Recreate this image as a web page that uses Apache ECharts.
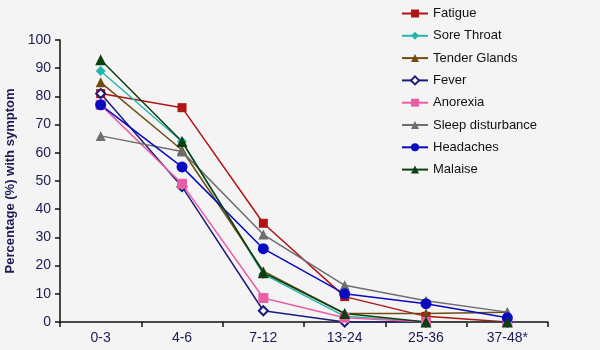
<!DOCTYPE html>
<html><head><meta charset="utf-8">
<script src="https://cdn.jsdelivr.net/npm/echarts@6/dist/echarts.min.js"></script>
<style>html,body{margin:0;padding:0;background:#f4f4f4;}#c{width:600px;height:350px;}</style>
</head><body><div id="c"></div>
<script>
var categories = ['0-3','4-6','7-12','13-24','25-36','37-48*'];
var yTicks = [0,10,20,30,40,50,60,70,80,90,100];
var fatigue = [81, 76, 35, 9, 2, 0];
var soreThroat = [89, 64, 17, 2, 0, 0];
var tenderGlands = [85, 61, 18, 3, 3, 3.5];
var fever = [81, 48, 4, 0, 0, 0];
var anorexia = [77, 49, 8.5, 1.5, 0, 0];
var sleepDisturbance = [66, 60.5, 31, 13, 7.5, 3.5];
var headaches = [77, 55, 26, 10, 6.5, 1.5];
var malaise = [93, 64, 17.5, 3, 0, 0];

var defs = [
  ['Fatigue', fatigue, '#b01414', 'rect', 9],
  ['Sore Throat', soreThroat, '#26b5ad', 'diamond', 10],
  ['Tender Glands', tenderGlands, '#6e4c12', 'triangle', 10],
  ['Fever', fever, '#1c1a7a', 'diamond', 9],
  ['Anorexia', anorexia, '#ec5ea4', 'rect', 10],
  ['Sleep disturbance', sleepDisturbance, '#6e6e6e', 'triangle', 10],
  ['Headaches', headaches, '#0a0ac0', 'circle', 11],
  ['Malaise', malaise, '#0d3f12', 'triangle', 11]
];
var series = defs.map(function(d){
  var s = {
    name: d[0], type: 'line', data: d[1], symbol: d[3], symbolSize: d[4],
    lineStyle: {color: d[2], width: 1.5}, itemStyle: {color: d[2]},
    animation: false
  };
  if (d[0] === 'Fever') {
    s.itemStyle = {color: '#ffffff', borderColor: d[2], borderWidth: 2};
  }
  return s;
});
var chart = echarts.init(document.getElementById('c'));
chart.setOption({
  backgroundColor: '#f4f4f4',
  animation: false,
  grid: {left: 60, right: 52, top: 40, bottom: 28, containLabel: false, outerBoundsMode: 'none'},
  legend: {
    orient: 'vertical', left: 396, top: 2, itemGap: 9.3, itemWidth: 26, itemHeight: 10,
    textStyle: {fontFamily: 'Liberation Sans, Arial', fontSize: 13, color: '#111'},
    data: defs.map(function(d){ return d[0]; })
  },
  xAxis: {
    type: 'category', data: categories, boundaryGap: true,
    axisLine: {lineStyle: {color: '#111', width: 1.5}},
    axisTick: {show: true, length: 5, inside: false, lineStyle: {color: '#111', width: 1.5}},
    axisLabel: {color: '#1b1b55', fontFamily: 'Liberation Sans, Arial', fontSize: 14, margin: 9}
  },
  yAxis: {
    type: 'value', min: 0, max: 100, interval: 10,
    name: 'Percentage (%) with symptom', nameLocation: 'middle', nameGap: 41,
    nameTextStyle: {color: '#1b1b55', fontFamily: 'Liberation Sans, Arial', fontSize: 13, fontWeight: 'bold'},
    axisLine: {show: true, lineStyle: {color: '#111', width: 1.5}},
    axisTick: {show: true, length: 5, lineStyle: {color: '#111', width: 1.5}},
    splitLine: {show: false},
    axisLabel: {color: '#1b1b55', fontFamily: 'Liberation Sans, Arial', fontSize: 14, margin: 9,
      formatter: function(v){ return yTicks.indexOf(v) >= 0 ? String(v) : ''; }}
  },
  series: series
});
</script></body></html>
